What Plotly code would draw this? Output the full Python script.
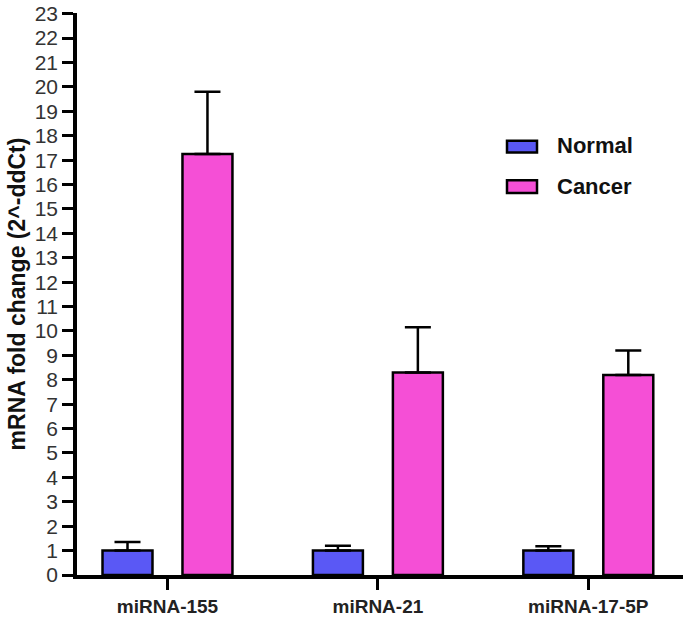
import plotly.graph_objects as go

categories = ["miRNA-155", "miRNA-21", "miRNA-17-5P"]
normal_vals = [1.0, 1.0, 1.0]
normal_err = [0.35, 0.2, 0.18]
cancer_vals = [17.25, 8.3, 8.2]
cancer_err = [2.55, 1.85, 1.0]
y_ticks = list(range(0, 24))
series_names = ["Normal", "Cancer"]

W, H = 685, 619
L, R, T, B = 77, 2, 12, 39
pw, ph = W - L - R, H - T - B

def px(x):
    return (x - L) / pw

def py(y):
    return (H - B - y) / ph

normal_color = "#5a58f5"
cancer_color = "#f54fd6"
font_fam = "Arial, Liberation Sans, sans-serif"

fig = go.Figure()
fig.add_trace(go.Bar(
    x=categories, y=normal_vals, name=series_names[0],
    marker=dict(color=normal_color, line=dict(color="black", width=2.5)),
    error_y=dict(type="data", symmetric=False, array=normal_err,
                 arrayminus=[0] * len(normal_err), color="black", thickness=2.5, width=13),
    showlegend=False,
))
fig.add_trace(go.Bar(
    x=categories, y=cancer_vals, name=series_names[1],
    marker=dict(color=cancer_color, line=dict(color="black", width=2.5)),
    error_y=dict(type="data", symmetric=False, array=cancer_err,
                 arrayminus=[0] * len(cancer_err), color="black", thickness=2.5, width=13),
    showlegend=False,
))

# manual legend
leg = [(series_names[0], normal_color, 141, 153, 146), (series_names[1], cancer_color, 181, 194, 187)]
shapes = []
annotations = []
for name, col, y0, y1, yc in leg:
    shapes.append(dict(type="rect", xref="paper", yref="paper",
                       x0=px(507), x1=px(537), y0=py(y1), y1=py(y0),
                       fillcolor=col, line=dict(color="black", width=2.5)))
    annotations.append(dict(xref="paper", yref="paper", x=px(555), y=py(yc),
                            xanchor="left", yanchor="middle", showarrow=False,
                            text="<b>%s</b>" % name,
                            font=dict(family=font_fam, size=22, color="#111")))

fig.update_layout(
    width=W, height=H,
    margin=dict(l=L, r=R, t=T, b=B, pad=0),
    paper_bgcolor="white", plot_bgcolor="white",
    barmode="group", bargap=0.24, bargroupgap=0.375,
    shapes=shapes, annotations=annotations,
    showlegend=False,
    font=dict(family=font_fam),
)
fig.update_xaxes(
    range=[-0.43, 2.45], showline=True, linecolor="black", linewidth=3.5,
    ticks="outside", ticklen=11, tickwidth=2.5, tickcolor="black",
    tickfont=dict(family=font_fam, size=19, color="#222"),
    tickvals=categories, ticktext=["<b>%s</b>" % c for c in categories],
    showgrid=False, zeroline=False, fixedrange=True,
)
fig.update_yaxes(
    range=[0, 23.03], showline=True, linecolor="black", linewidth=3.5,
    ticks="outside", ticklen=11, tickwidth=2.5, tickcolor="black",
    tickvals=y_ticks, ticktext=[str(v) for v in y_ticks],
    tickfont=dict(family=font_fam, size=21, color="#333"),
    showgrid=False, zeroline=False,
    title=dict(text="<b>mRNA fold change (2^-ddCt)</b>", standoff=4,
               font=dict(family=font_fam, size=23, color="#111")),
)

fig.write_html("out.html", config={"displayModeBar": False},
               post_script="document.body.style.margin='0';document.body.style.overflow='hidden';")
